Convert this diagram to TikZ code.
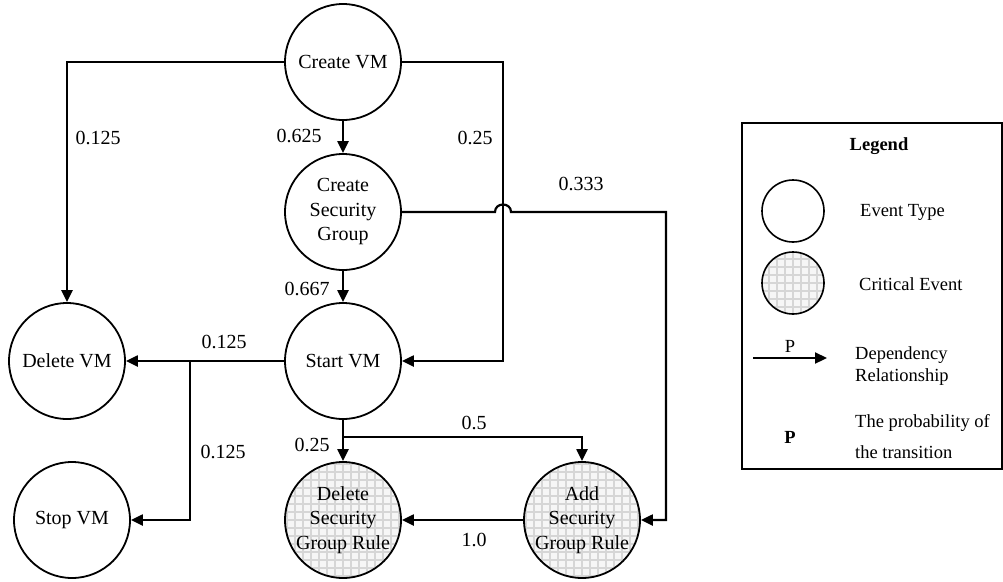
\documentclass[tikz,border=0pt]{standalone}
\usepackage{fontspec}
\setmainfont{Liberation Serif}
\usetikzlibrary{arrows.meta,calc}

\tikzset{
  gridfill/.style={
    path picture={
      \fill[gray!7] (path picture bounding box.south west) rectangle (path picture bounding box.north east);
      \foreach \d in {-64,-56,...,64}{
        \draw[gray!32,line width=1.5pt]
          ([xshift=\d pt]path picture bounding box.north) -- ([xshift=\d pt]path picture bounding box.south);
        \draw[gray!32,line width=1.5pt]
          ([yshift=\d pt]path picture bounding box.west) -- ([yshift=\d pt]path picture bounding box.east);
      }
    }},
  event/.style={circle,draw,line width=1.8pt,minimum size=116pt,inner sep=0pt,
    align=center,font=\fontsize{20}{24.5}\selectfont},
  critical/.style={event,gridfill},
  wire/.style={line width=2.2pt},
  arr/.style={wire,-{Triangle[length=12pt,width=11pt]}},
  prob/.style={font=\fontsize{20}{24}\selectfont,inner sep=0pt},
  legtext/.style={font=\fontsize{18.5}{22}\selectfont,align=left,anchor=west,inner sep=0pt},
}

\begin{document}
\begin{tikzpicture}[x=1pt,y=-1pt]
  \useasboundingbox (0,0) rectangle (1003,581);

  % events
  \node[event] (cvm) at (343,62) {Create VM};
  \node[event] (csg) at (343,212) {Create\\Security\\Group};
  \node[event] (svm) at (343,361) {Start VM};
  \node[event] (dvm) at (67,361) {Delete VM};
  \node[event] (stvm) at (72,520) {Stop VM};
  \node[critical] (dsg) at (343,520) {Delete\\Security\\Group Rule};
  \node[critical] (asg) at (582,520) {Add\\Security\\Group Rule};

  % bend points of the routed connectors
  \coordinate (cvmR) at (503,62);
  \coordinate (hopL) at (495,212);
  \coordinate (hopR) at (511,212);
  \coordinate (csgR) at (666,212);
  \coordinate (brL) at (190,361);
  \coordinate (brD) at (343,437);

  % dependencies
  \draw[arr] (cvm.west) -| (dvm.north);
  \draw[arr] (cvm.east) -- (cvmR) |- (svm.east);
  \draw[arr] (cvm) -- (csg);
  \draw[arr] (csg) -- (svm);
  \draw[arr] (csg.east) -- (hopL) .. controls +(0,-10) and +(0,-10) .. (hopR) -- (csgR) |- (asg.east);
  \draw[arr] (svm.west) -- (dvm.east);
  \draw[arr] (brL) |- (stvm.east);
  \draw[arr] (svm) -- (dsg);
  \draw[arr] (brD) -| (asg.north);
  \draw[arr] (asg) -- (dsg);

  % transition probabilities
  \node[prob] (p1) at (98,138) {0.125};
  \node[prob] (p2) at (299,136) {0.625};
  \node[prob] (p3) at (475,138) {0.25};
  \node[prob] (p4) at (581,184) {0.333};
  \node[prob] (p5) at (307,289) {0.667};
  \node[prob] (p6) at (224,342) {0.125};
  \node[prob] (p7) at (223,452) {0.125};
  \node[prob] (p8) at (312,445) {0.25};
  \node[prob] (p9) at (474,423) {0.5};
  \node[prob] (p10) at (474,540) {1.0};

  % legend
  \draw[line width=1.8pt] (742,123) rectangle (1002,469);
  \node[font=\fontsize{18.5}{22}\selectfont\bfseries] (lt) at (879,146) {Legend};
  \node[circle,draw,line width=1.6pt,minimum size=62pt,inner sep=0pt] (le1) at (793,211) {};
  \node[legtext] (lt1) at (860,212) {Event Type};
  \node[circle,draw,line width=1.6pt,minimum size=62pt,inner sep=0pt,gridfill] (le2) at (793,283) {};
  \node[legtext] (lt2) at (859,284) {Critical Event};
  \coordinate (la) at (753,358);
  \coordinate (lb) at (827,358);
  \draw[arr] (la) -- (lb);
  \node[font=\fontsize{18.5}{22}\selectfont,inner sep=0pt] (lp) at (790,346) {P};
  \node[legtext] (lt3) at (855,366) {Dependency\\Relationship};
  \node[font=\fontsize{18.5}{22}\selectfont\bfseries,inner sep=0pt] (lp2) at (790,437) {P};
  \node[legtext,font=\fontsize{18.5}{31}\selectfont] (lt4) at (855,437) {The probability of\\the transition};
\end{tikzpicture}
\end{document}
